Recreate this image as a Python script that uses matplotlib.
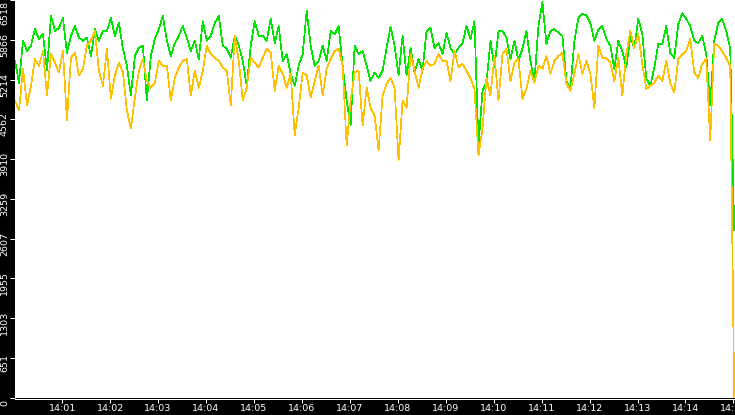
import pandas as pd
import matplotlib
matplotlib.use("Agg")
import matplotlib.pyplot as plt
import matplotlib.dates as mdates
import matplotlib.transforms as mtransforms

# --- values, one sample every 5 s from 14:00:01 ---
green_vals = [
    5520, 5160, 5850, 5680, 5770, 6040, 5880, 5960, 5360, 6260, 6010, 6060, 6220, 5650, 5930, 6090,
    5900, 5850, 5900, 5600, 6040, 5850, 6010, 6010, 6220, 5930, 6140, 5720, 5440, 4950, 5600, 5730,
    5770, 4870, 5600, 5880, 6040, 6260, 5850, 5600, 5810, 5930, 6090, 5900, 5680, 5850, 5550,
    6170, 5850, 5930, 6140, 6260, 5770, 5720, 5570, 5930, 5770, 5520, 5110, 5770, 6170, 5930,
    5930, 5850, 6210, 5810, 6090, 5520, 5630, 5310, 5110, 5440, 5630, 6340, 5770, 5440, 5520,
    5770, 5520, 6010, 5960, 6090, 5440, 4870, 4460, 5770, 5630, 5680, 5440, 5190, 5330, 5240,
    5360, 5730, 6080, 5770, 5280, 5930, 5280, 5730, 5330, 5550, 5360, 6010, 6060, 5730, 5810,
    5630, 5980, 5730, 5630, 5730, 5810, 6090, 5880, 6170, 4130, 5030, 5160, 5850, 5410, 6010,
    6010, 5900, 5550, 5850, 5520, 5720, 6010, 5520, 5190, 6090, 6480, 5800, 6010, 6040, 5980,
    5930, 5190, 5060, 5850, 6220, 6290, 6270, 6140, 5850, 6040, 6090, 5880, 5770, 5390, 5850,
    5680, 5410, 5930, 5730, 6210, 5960, 5230, 5110, 5410, 5800, 5800, 6090, 5650, 5570, 6120,
    6300, 6210, 6090, 5850, 5810, 5930, 5630, 4790, 5850, 6140, 6210, 6010, 5720, 2750,
]
yellow_vals = [
    4870, 4710, 5390, 4790, 5110, 5550, 5440, 5680, 4950, 5630, 5490, 5330, 5680, 4540, 5570, 5650,
    5280, 5390, 5770, 5850, 6010, 5360, 5110, 5720, 4900, 5280, 5490, 5330, 4710, 4410, 4920, 5360,
    5550, 5190, 5080, 5160, 5520, 5440, 5440, 4870, 5240, 5410, 5520, 5550, 4950, 5360, 5080,
    5360, 5770, 5630, 5570, 5520, 5410, 5360, 4790, 5930, 5520, 4870, 5080, 5570, 5490, 5410,
    5570, 5720, 5650, 5030, 5440, 5310, 5080, 5310, 4300, 4750, 5330, 5280, 4920, 5190, 5440,
    4950, 5390, 5550, 5680, 5720, 5440, 4130, 4870, 5330, 5360, 4460, 5080, 4750, 4620, 4050,
    4950, 5150, 5240, 5080, 3890, 4870, 4750, 5630, 5360, 5080, 5390, 5520, 5440, 5470, 5630,
    5520, 5520, 5190, 5680, 5410, 5470, 5360, 5230, 5060, 3970, 4410, 5240, 4950, 5600, 4870,
    5630, 5720, 5190, 5490, 5550, 4900, 5060, 5360, 5160, 5440, 5390, 5600, 5310, 5520, 5600,
    5650, 5150, 5030, 5310, 5630, 5310, 5520, 5310, 4750, 5770, 5570, 5570, 5490, 5190, 5570,
    4950, 5630, 6010, 5730, 5960, 5470, 5060, 5110, 5160, 5280, 5190, 5520, 5150, 5000, 5550,
    5630, 5680, 5880, 5330, 5240, 5470, 5550, 4220, 5800, 5770, 5680, 5570, 5440, 0,
]
y_ticks = [0, 651, 1303, 1955, 2607, 3259, 3910, 4562, 5214, 5866, 6518]
y_tick_labels = ["0", "651", "1303", "1955", "2607", "3259", "3910", "4562", "5214", "5866", "6518"]

times = pd.date_range("2024-01-01 14:00:01", periods=len(green_vals), freq="5s")

fig = plt.figure(figsize=(7.35, 4.15), dpi=100, facecolor="black")
ax = fig.add_axes([15 / 735, 17.5 / 415, 720 / 735, 397.5 / 415])
ax.set_facecolor("white")

ax.plot(times, green_vals, color="#00e600", lw=0.5, antialiased=False)
ax.plot(times, yellow_vals, color="#ffc000", lw=0.5, antialiased=False)

ax.set_xlim(times[0], times[-1] + pd.Timedelta(seconds=1))
ax.set_ylim(0, 6518)

ax.xaxis.set_major_locator(mdates.MinuteLocator())
ax.xaxis.set_major_formatter(mdates.DateFormatter("%H:%M"))
ax.set_yticks(y_ticks)
ax.set_yticklabels(y_tick_labels)

for side in ["top", "right", "left"]:
    ax.spines[side].set_visible(False)
ax.spines["bottom"].set_color("white")
ax.spines["bottom"].set_linewidth(0.75)
ax.spines["bottom"].set_position(("outward", 1.0))

ax.tick_params(axis="x", colors="white", length=3.0, width=0.75, pad=0.6, labelsize=6.8)
ax.tick_params(axis="y", colors="white", length=3.6, width=0.75, pad=0.8, labelsize=6.8)

# y labels are turned on their side and sit a little below their tick
labels = ax.get_yticklabels()
for i, lab in enumerate(labels):
    lab.set_rotation(90)
    lab.set_va("center")
    dy = -13 if i == len(labels) - 1 else -5
    off = mtransforms.ScaledTranslation(0, dy / 100, fig.dpi_scale_trans)
    lab.set_transform(lab.get_transform() + off)

fig.savefig("out.png", dpi=100, facecolor="black")
